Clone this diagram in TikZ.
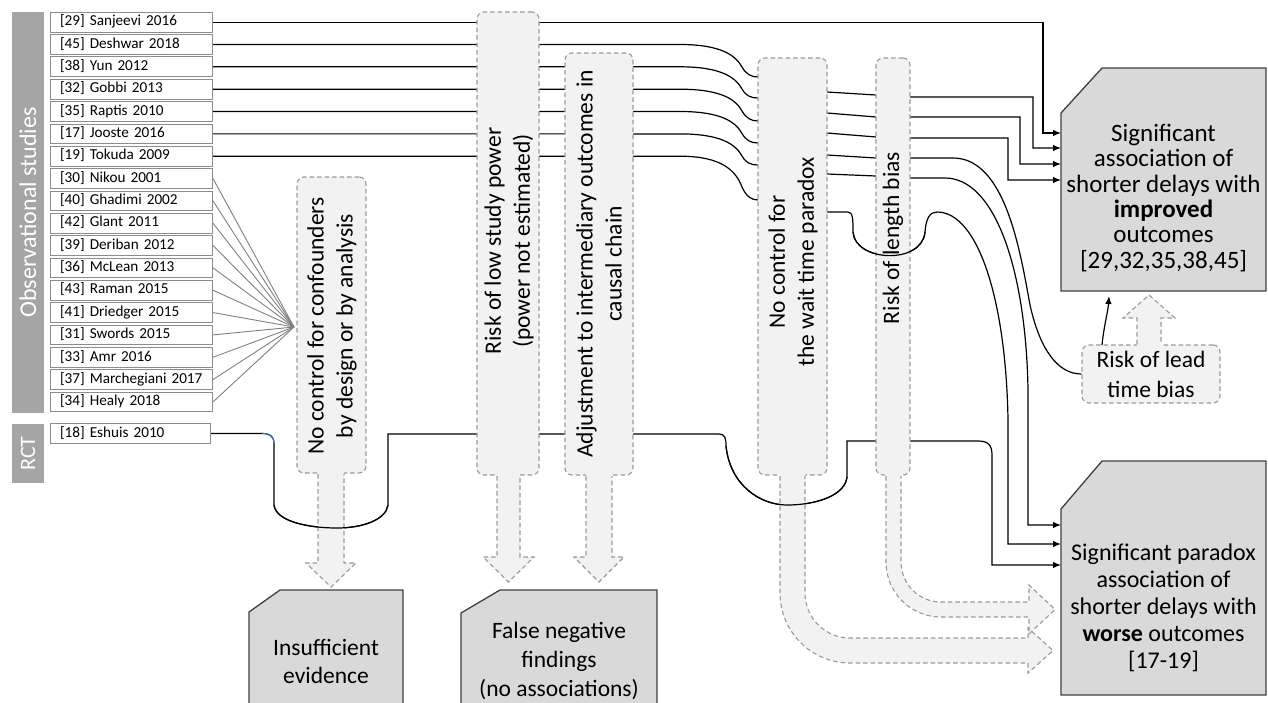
\documentclass[tikz,border=0pt]{standalone}
\usepackage{fontspec}
\setmainfont{Carlito}
\usetikzlibrary{arrows.meta}
\definecolor{barg}{HTML}{A5A5A5}
\definecolor{boxg}{HTML}{D9D9D9}
\definecolor{lightf}{HTML}{F2F2F2}
\definecolor{dashg}{HTML}{999999}
\definecolor{studyb}{HTML}{8C8C8C}
\definecolor{outl}{HTML}{404040}
\definecolor{glink}{HTML}{808080}
\definecolor{blueseg}{HTML}{4472C4}
\begin{document}
\begin{tikzpicture}[x=1pt,y=-1pt,
  study/.style={draw=studyb, line width=1pt, fill=white, minimum height=19.7pt, text width=143pt, inner xsep=9.5pt, inner ysep=0pt, anchor=west, font=\fontsize{15.2}{16}\selectfont, text height=10.5pt, text depth=3pt, align=left},
  bar/.style={fill=barg, draw=none, inner sep=0pt},
  bartext/.style={text=white, rotate=90, font=\fontsize{22}{24}\selectfont, inner sep=0pt},
  rbox/.style={draw=dashg, fill=lightf, dash pattern=on 4.5pt off 3pt, line width=1.1pt, rounded corners=7pt, inner sep=0pt},
  dline/.style={draw=dashg, dash pattern=on 4.5pt off 3pt, line width=1.1pt},
  rot/.style={rotate=90, align=center, font=\fontsize{23.5}{29}\selectfont, inner sep=0pt},
  conn/.style={line width=1.2pt, draw=black},
  arr/.style={-{Latex[length=8pt,width=6.5pt]}},
  outc/.style={fill=boxg, draw=outl, line width=1.3pt},
  otext/.style={align=center, font=\fontsize{23.5}{25.5}\selectfont, inner sep=0pt},
  glk/.style={draw=glink, line width=0.9pt}
]
\useasboundingbox (0,0) rectangle (1268,702);

% side bars
\node[bar, minimum width=32pt, minimum height=401pt] (obsbar) at (28,212.5) {};
\node[bartext, font=\fontsize{24}{26}\selectfont] (obstxt) at (obsbar.center) {Observational studies};
\node[bar, minimum width=32pt, minimum height=59pt] (rctbar) at (28,453.5) {};
\node[bartext] (rcttxt) at (rctbar.center) {RCT};

% study boxes
\foreach \i/\t in {1/{[29] Sanjeevi 2016},2/{[45] Deshwar 2018},3/{[38] Yun 2012},4/{[32] Gobbi 2013},5/{[35] Raptis 2010},6/{[17] Jooste 2016},7/{[19] Tokuda 2009},8/{[30] Nikou 2001},9/{[40] Ghadimi 2002},10/{[42] Glant 2011},11/{[39] Deriban 2012},12/{[36] McLean 2013},13/{[43] Raman 2015},14/{[41] Driedger 2015},15/{[31] Swords 2015},16/{[33] Amr 2016},17/{[37] Marchegiani 2017},18/{[34] Healy 2018}}
  \node[study] (s\i) at (50,{22.15+22.34*(\i-1)}) {\t};
\node[study, text width=141pt] (e) at (50,433.5) {[18] Eshuis 2010};

% convergence of unadjusted studies
\coordinate (cv) at (294,327);
\foreach \i in {8,...,18} \draw[glk] (s\i.east) -- (cv);

% lead time bias box (named first for connector)
\node[rbox, minimum width=138pt, minimum height=58pt] (lb) at (1151,374) {};

% connectors (drawn below the boxes)
\draw[conn,arr] (s1.east) -| (1043,133) -- (1061,133);
\draw[conn,arr] (s2.east) -- (680,44.5) .. controls (722,44.5) and (736,56) .. (742,67) .. controls (746,74) and (751,77) .. (758,77) -- (827,92) -- (876,95) -- (910,97) -| (1033,148) -- (1061,148);
\draw[conn,arr] (s3.east) -- (680,66.8) .. controls (722,66.8) and (736,78) .. (742,89) .. controls (746,96) and (751,98) .. (758,98) -- (827,113) -- (876,117) -- (910,117) -| (1020,164) -- (1061,164);
\draw[conn,arr] (s4.east) -- (680,89.2) .. controls (722,89.2) and (736,100) .. (742,111) .. controls (746,118) and (751,121) .. (758,121) -- (827,133) -- (876,137) -- (910,138) -| (1008,180) -- (1061,180);
\draw[conn] (s5.east) -- (680,111.5) .. controls (722,111.5) and (736,122.5) .. (742,133.5) .. controls (746,140.5) and (751,143) .. (758,143) -- (827,155) -- (876,158) -- (910,158) -- (953,158) .. controls (1005,158) and (1020,250) .. (1030,305) .. controls (1040,350) and (1058,374) .. (lb.west);
\draw[conn,arr] (s6.east) -- (680,133.9) .. controls (722,133.9) and (736,145) .. (742,156) .. controls (746,163) and (751,165) .. (758,165) -- (827,174) -- (876,176) -- (910,178) -- (945,178) .. controls (995,178) and (1026,270) .. (1028,390) -- (1028,525) -- (1061,525);
\draw[conn,arr] (s7.east) -- (680,156.2) .. controls (722,156.2) and (736,171) .. (742,187) .. controls (746,196) and (751,200) .. (758,200) -- (827,212) -- (848,212) .. controls (853,212) and (853,220) .. (853,232) .. controls (855,262) and (922,265) .. (925,232) .. controls (926,218) and (930,212) .. (937,212) .. controls (978,212) and (1006,300) .. (1008,420) -- (1008,544) -- (1061,544);
\draw[conn,arr] (e.east) -- (262,433.5) .. controls (270,433.5) and (274,436) .. (274,444) -- (274,505) .. controls (276,522) and (310,528) .. (337,528) .. controls (362,528) and (386,520) .. (388,505) -- (388,434) -- (719,434) .. controls (725,434) and (726,438) .. (726,446) .. controls (730,485) and (760,505) .. (787,505) .. controls (815,505) and (845,496) .. (847,477) -- (847,441) -- (978,441) .. controls (988,441) and (992,445) .. (992,455) -- (992,565) -- (1061,565);
\draw[blueseg, line width=1.2pt] (262,433.5) .. controls (270,433.5) and (274,436) .. (274,444);

% dashed boxes
\node[rbox, minimum width=69pt, minimum height=296pt] (b1) at (331.5,325) {};
\node[rbox, minimum width=62pt, minimum height=463pt] (b2) at (508,243.5) {};
\node[rbox, minimum width=68pt, minimum height=422pt] (b3) at (599,264) {};
\node[rbox, minimum width=69pt, minimum height=417pt] (b4) at (792.5,266.5) {};
\node[rbox, minimum width=34pt, minimum height=417pt] (b5) at (893,266.5) {};

% block arrows
\fill[lightf] (318,470) -- (318,563) -- (306,563) -- (331,587) -- (356,563) -- (344,563) -- (344,470) -- cycle;
\draw[dline] (318,474) -- (318,563) -- (306,563) -- (331,587) -- (356,563) -- (344,563) -- (344,474);
\fill[lightf] (497,472) -- (497,557) -- (483,557) -- (508.5,582) -- (534,557) -- (520,557) -- (520,472) -- cycle;
\draw[dline] (497,476) -- (497,557) -- (483,557) -- (508.5,582) -- (534,557) -- (520,557) -- (520,476);
\fill[lightf] (586,472) -- (586,557) -- (574,557) -- (599,582) -- (624,557) -- (612,557) -- (612,472) -- cycle;
\draw[dline] (586,476) -- (586,557) -- (574,557) -- (599,582) -- (624,557) -- (612,557) -- (612,476);
\fill[lightf] (780,472) -- (780,593) .. controls (780,631.7) and (811.3,663) .. (850,663) -- (1028,663) -- (1028,673) -- (1053,650.5) -- (1028,628) -- (1028,638) -- (850,638) .. controls (825.1,638) and (805,617.9) .. (805,593) -- (805,472) -- cycle;
\draw[dline] (780,476) -- (780,593) .. controls (780,631.7) and (811.3,663) .. (850,663) -- (1028,663) -- (1028,673) -- (1053,650.5) -- (1028,628) -- (1028,638) -- (850,638) .. controls (825.1,638) and (805,617.9) .. (805,593) -- (805,476);
\fill[lightf] (886,472) -- (886,562) .. controls (886,592.4) and (910.6,617) .. (941,617) -- (1029,617) -- (1029,634) -- (1055,609.5) -- (1029,585) -- (1029,602) -- (941,602) .. controls (918.9,602) and (901,584.1) .. (901,562) -- (901,472) -- cycle;
\draw[dline] (886,476) -- (886,562) .. controls (886,592.4) and (910.6,617) .. (941,617) -- (1029,617) -- (1029,634) -- (1055,609.5) -- (1029,585) -- (1029,602) -- (941,602) .. controls (918.9,602) and (901,584.1) .. (901,562) -- (901,476);
\fill[lightf] (1137,348) -- (1137,318) -- (1123,318) -- (1149,295) -- (1175,318) -- (1161,318) -- (1161,348) -- cycle;
\draw[dline] (1137,344) -- (1137,318) -- (1123,318) -- (1149,295) -- (1175,318) -- (1161,318) -- (1161,344);

% connector parts that pass over the boxes
\draw[conn] (274,505) .. controls (276,522) and (310,528) .. (337,528) .. controls (362,528) and (386,520) .. (388,505);
\draw[conn] (726,446) .. controls (730,485) and (760,505) .. (787,505) .. controls (815,505) and (845,496) .. (847,477);
\draw[conn] (853,232) .. controls (855,262) and (922,265) .. (925,232);

% box texts
\node[rot] (t1) at (332,326) {No control for confounders\\by design or by analysis};
\node[rot] (t2) at (509,241) {Risk of low study power\\(power not estimated)};
\node[rot] (t3) at (599,264) {Adjustment to intermediary outcomes in\\causal chain};
\node[rot] (t4) at (793,262) {No control for\\the wait time paradox};
\node[rot] (t5) at (893,238) {Risk of length bias};
\node[otext, font=\fontsize{23.5}{30}\selectfont] (lt) at (lb.center) {Risk of lead\\time bias};

% outcome boxes
\draw[outc] (1102,68) -- (1266,68) -- (1266,291) -- (1061,291) -- (1061,113) -- cycle;
\node[otext, font=\fontsize{25}{25.3}\selectfont] (impr) at (1163.5,198) {Significant\\association of\\shorter delays with\\\textbf{improved}\\outcomes\\{[}29,32,35,38,45{]}};
\draw[outc] (1102,461) -- (1266,461) -- (1266,695) -- (1061,695) -- (1061,509) -- cycle;
\node[otext, font=\fontsize{24}{27}\selectfont] (worse) at (1163.5,608) {Significant paradox\\association of\\shorter delays with\\\textbf{worse} outcomes\\{[}17-19{]}};
\draw[outc] (280,590) -- (403,590) -- (403,712) -- (249,712) -- (249,612) -- cycle;
\node[otext, font=\fontsize{23.5}{28}\selectfont] (insuf) at (326,661) {Insufficient\\evidence};
\draw[outc] (500,590) -- (657,590) -- (657,712) -- (461,712) -- (461,613) -- cycle;
\node[otext, font=\fontsize{23.5}{29}\selectfont] (fneg) at (559,661) {False negative\\findings\\(no associations)};

% lead time arrow into improved box
\draw[conn,arr] (1102,345) .. controls (1104,325) and (1108,312) .. (1109,296);
\end{tikzpicture}
\end{document}
